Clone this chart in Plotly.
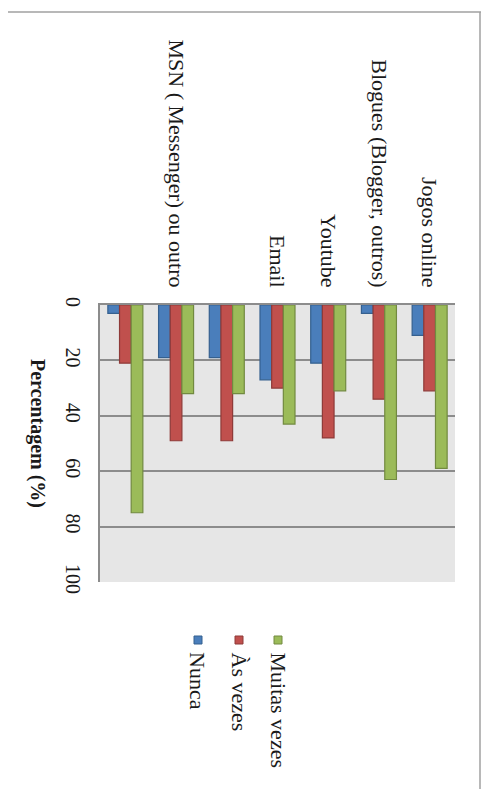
import plotly.graph_objects as go

# ---- data ----
category_labels = ["", "MSN ( Messenger) ou outro", "", "Email", "Youtube",
                   "Blogues (Blogger, outros)", "Jogos online"]
series_names = ["Nunca", "Às vezes", "Muitas vezes"]
nunca = [3, 19, 19, 27, 21, 3, 11]
as_vezes = [21, 49, 49, 30, 48, 34, 31]
muitas_vezes = [75, 32, 32, 43, 31, 63, 59]
value_ticks = [0, 20, 40, 60, 80, 100]

# ---- styling ----
OFF = 8  # browser body margin
W, H = 489 - OFF, 789 - OFF
PLOT_L, PLOT_R, PLOT_T, PLOT_B = 100, 455, 305, 582  # screen pixels
ML, MR, MT, MB = PLOT_L - OFF, W - (PLOT_R - OFF), PLOT_T - OFF, H - (PLOT_B - OFF)
PW, PH = PLOT_R - PLOT_L, PLOT_B - PLOT_T
FONT = "Liberation Serif, Times New Roman, serif"
fills = ["#4a7ebb", "#c0504d", "#9bbb59"]
edges = ["#35608f", "#8e3a38", "#728a40"]


def px_x(p):
    return (p - PLOT_L) / PW


def px_y(p):
    return (PLOT_B - p) / PH


xpos = list(range(len(category_labels)))
fig = go.Figure()
for name, vals, fc, ec in zip(series_names, [nunca, as_vezes, muitas_vezes], fills, edges):
    fig.add_trace(go.Bar(x=xpos, y=vals, name=name, marker=dict(color=fc, line=dict(color=ec, width=1.2)),
                         showlegend=False))

fig.update_layout(
    width=W, height=H,
    margin=dict(l=ML, r=MR, t=MT, b=MB, pad=0, autoexpand=False),
    paper_bgcolor="white", plot_bgcolor="#e6e6e6",
    barmode="group", bargap=0.31, bargroupgap=0,
    font=dict(family=FONT, color="#1a1a1a"),
    xaxis=dict(side="top", tickmode="array", tickvals=xpos, ticktext=category_labels,
               tickangle=90, tickfont=dict(size=22, family=FONT), ticks="", automargin=False,
               ticklabelstandoff=8, showgrid=False, showline=True, linecolor="#8c8c8c",
               linewidth=1.5, range=[-0.5, len(xpos) - 0.5], zeroline=False),
    yaxis=dict(range=[100, 0], tickmode="array", tickvals=value_ticks, automargin=False,
               tickangle=90, tickfont=dict(size=20, family=FONT), ticks="",
               ticklabelstandoff=8, showgrid=True, gridcolor="#8c8c8c", gridwidth=1.5,
               showline=True, linecolor="#8c8c8c", linewidth=1.5, zeroline=False),
)

# axis title (rotated clockwise)
fig.add_annotation(text="<b>Percentagem (%)</b>", textangle=90, xref="paper", yref="paper",
                   x=px_x(38), y=px_y(433), xanchor="center", yanchor="middle", showarrow=False,
                   font=dict(size=20, family=FONT, color="#1a1a1a"))

# legend (rotated)
legend_x = [198, 239, 278]
for name, fc, ec, lx in zip(series_names, fills, edges, legend_x):
    fig.add_shape(type="rect", xref="paper", yref="paper", xsizemode="pixel", ysizemode="pixel",
                  xanchor=px_x(lx), yanchor=px_y(640), x0=-4, x1=4, y0=-4, y1=4,
                  fillcolor=fc, line=dict(color=ec, width=1))
    fig.add_annotation(text=name, textangle=90, xref="paper", yref="paper",
                       x=px_x(lx), y=px_y(650), xanchor="center", yanchor="top", showarrow=False,
                       font=dict(size=22, family=FONT, color="#1a1a1a"))

# picture frame
fig.add_shape(type="line", xref="paper", yref="paper", x0=px_x(OFF), x1=px_x(481), y0=px_y(12), y1=px_y(12),
              line=dict(color="#a0a0a0", width=1.5))
fig.add_shape(type="line", xref="paper", yref="paper", x0=px_x(480), x1=px_x(480), y0=px_y(12), y1=px_y(789),
              line=dict(color="#a0a0a0", width=1.5))

fig.write_html("out.html")
